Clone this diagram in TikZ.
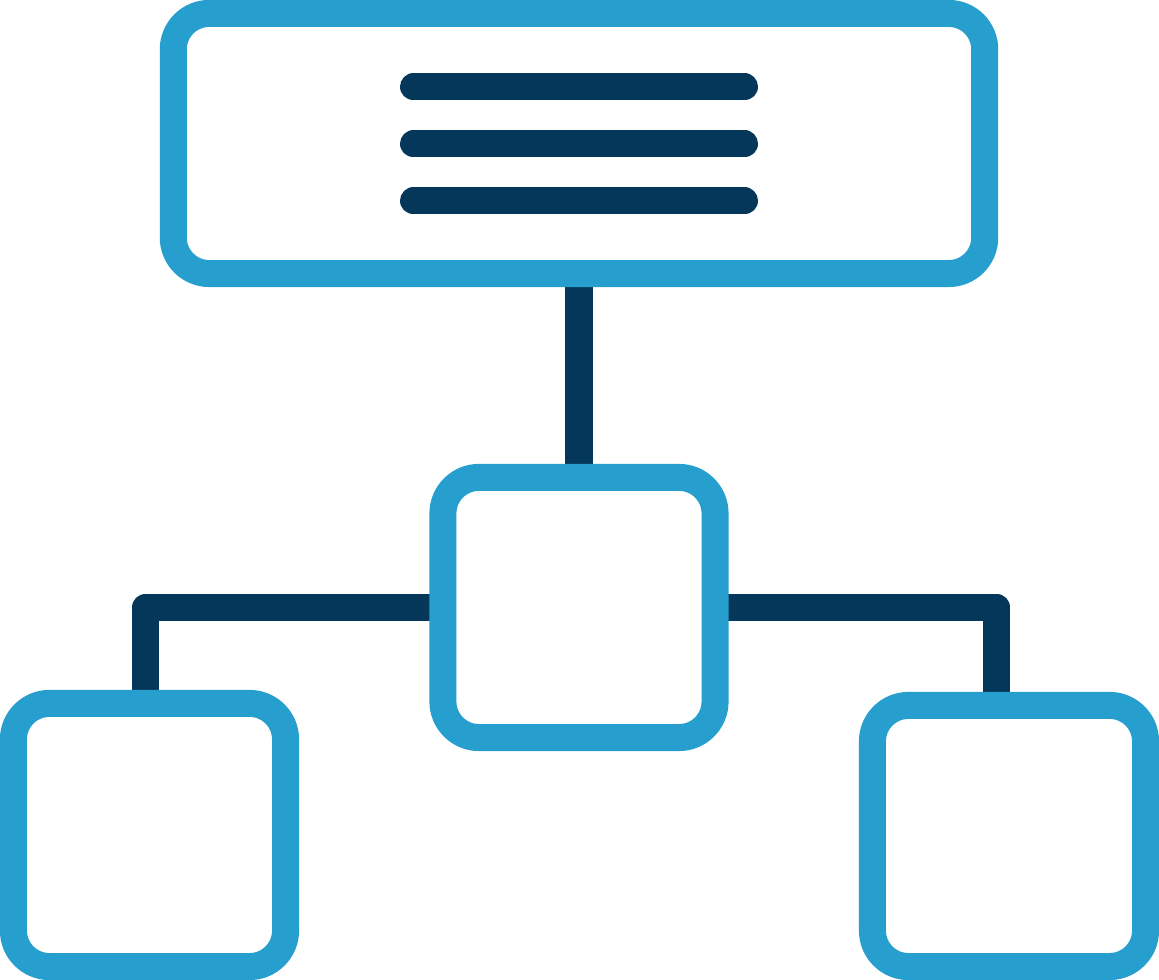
\documentclass[tikz,border=0pt]{standalone}
\usepackage{tikz}
\usetikzlibrary{positioning,backgrounds}

\definecolor{iconblue}{RGB}{38,158,206}
\definecolor{iconnavy}{RGB}{5,55,90}

\tikzset{
  box/.style={draw=iconblue, fill=white, line width=0.27cm, rounded corners=0.36cm,
    inner sep=0pt, outer sep=0pt},
  link/.style={draw=iconnavy, line width=0.27cm, line join=round},
}

\begin{document}
\begin{tikzpicture}[line cap=butt, x=0.01cm, y=-0.01cm]
\useasboundingbox (0,0) rectangle (1159,980);

% boxes
\node[box, minimum width=8.11cm, minimum height=2.60cm] (top) at (579,143.5) {};
\node[box, minimum width=2.72cm, minimum height=2.60cm] (mid) at (579,607.5) {};
\node[box, minimum width=2.72cm, minimum height=2.63cm] (left) at (149.5,835) {};
\node[box, minimum width=2.73cm, minimum height=2.61cm] (right) at (1009,836) {};

% text lines
\foreach \dy in {-56.5,0.5,57.5}
  \draw[iconnavy, line width=0.27cm, line cap=round]
    ([shift={(-165.5,\dy)}]top.center) -- ([shift={(165.5,\dy)}]top.center);

% connectors
\begin{pgfonlayer}{background}
\draw[link] (top.south) -- (mid.north);
\draw[link] (mid.west) -| ([xshift=-0.04cm]left.north);
\draw[link] (mid.east) -| ([xshift=-0.12cm]right.north);
\end{pgfonlayer}

\end{tikzpicture}
\end{document}
